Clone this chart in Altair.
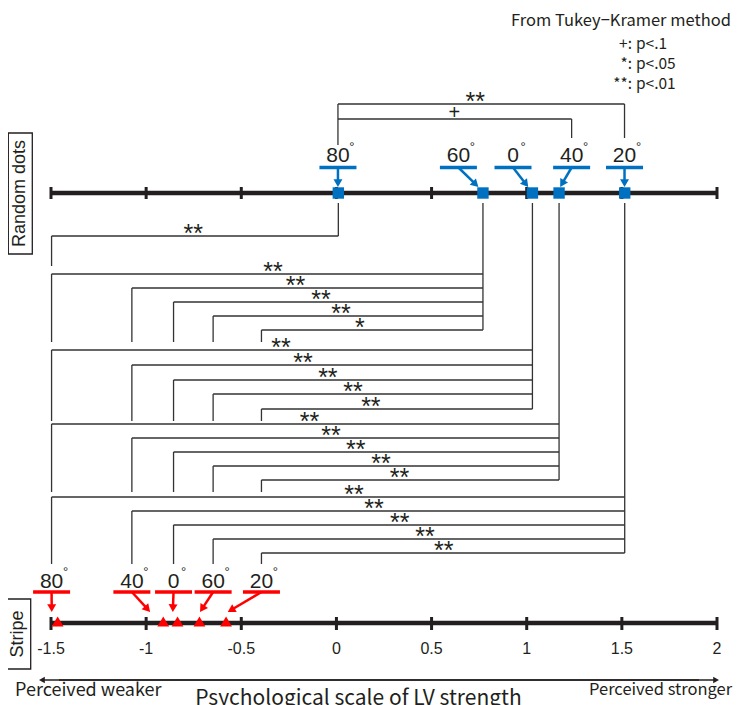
import math
import altair as alt
import pandas as pd

# ---------------- values ----------------
random_angles = ["80", "60", "0", "40", "20"]            # random-dots conditions, left to right
random_scale = [0.01, 0.77, 1.03, 1.17, 1.515]            # psychological scale values
stripe_angles = ["80", "40", "0", "60", "20"]             # stripe conditions, left to right
stripe_scale = [-1.465, -0.91, -0.835, -0.72, -0.58]
axis_ticks = [-1.5, -1.0, -0.5, 0.0, 0.5, 1.0, 1.5, 2.0]
tick_labels = ["-1.5", "-1", "-0.5", "0", "0.5", "1", "1.5", "2"]

# Tukey-Kramer: each random-dots condition vs the stripe conditions (stripe_angles order)
sig_vs_stripe_80 = ["**", "", "", "", ""]
sig_vs_stripe_60 = ["**", "**", "**", "**", "*"]
sig_vs_stripe_0 = ["**", "**", "**", "**", "**"]
sig_vs_stripe_40 = ["**", "**", "**", "**", "**"]
sig_vs_stripe_20 = ["**", "**", "**", "**", "**"]
# within random dots
pair_from = ["80", "80"]
pair_to = ["20", "40"]
pair_sig = ["**", "+"]

legend_keys = ["+:", "*:", "**:"]
legend_levels = ["p<.1", "p<.05", "p<.01"]
legend_title = "From Tukey\u2212Kramer method"
axis_title = "Psychological scale of LV strength"
left_note = "Perceived weaker"
right_note = "Perceived stronger"

# ---------------- layout ----------------
W, H = 666, 697
PAD = {"left": 43, "right": 19, "top": 0, "bottom": 0}
XMIN, XMAX = -1.5, 2.0
PXU = W / (XMAX - XMIN)            # pixels per scale unit
INK = "#231f20"
LINE = "#333333"
BLUE = "#0070C0"
RED = "#FF0000"
F_LAT = "Liberation Sans"
F_JP = "Noto Sans CJK JP"

random_label_x = [0.008, 0.641, 0.928, 1.236, 1.514]
random_tip_x = [0.008, 0.746, 1.008, 1.176, 1.514]
stripe_label_x = [-1.497, -1.075, -0.856, -0.648, -0.394]
stripe_tip_x = [-1.496, -0.979, -0.860, -0.717, -0.571]

Y_LEG_TITLE, Y_LEG = 21, [44, 64, 84]
Y_TOPBR = [104, 119]
Y_TOPBR_STAR = [97, 112.5]
X_TOPBR_STAR = [0.73, 0.62]
Y_TOPBR_LEFT_END, Y_TOPBR_RIGHT_END = 145, 138
Y_RLAB, Y_RDEG, Y_RBAR, Y_RTIP, Y_RAXIS, Y_BR0 = 156, 147, 167.5, 187, 193, 203
group_lines = [[236], [274, 288, 302, 316, 330], [350, 365, 380, 394, 409],
               [424, 438, 452, 466, 480], [497, 511, 525, 539, 553]]
group_bottom = [266, 342, 421, 492, 564]
group_star_x = [[-0.753], [-0.333, -0.215, -0.081, 0.024, 0.123],
                [-0.291, -0.176, -0.045, 0.087, 0.181],
                [-0.142, -0.029, 0.102, 0.234, 0.331],
                [0.092, 0.197, 0.333, 0.465, 0.564]]
Y_SLAB, Y_SDEG, Y_SBAR, Y_STIP, Y_SAXIS, Y_SMARK = 582, 572, 592, 612, 623, 621.5
Y_TICKLAB, Y_ARROW, Y_NOTE, Y_TITLE = 649, 680, 691, 699


def du(p):
    return p / PXU


def img_x(p):
    return XMIN + (p - 8 - PAD["left"]) / PXU


rules, heads = [], []


def seg(x, y, x2, y2, c=LINE, w=1.3):
    rules.append(dict(x=x, y=y, x2=x2, y2=y2, c=c, w=w))


def arrow(x0, y0, x1, y1, c, w, size):
    dxp, dyp = (x1 - x0) * PXU, y1 - y0
    L = math.hypot(dxp, dyp)
    ux, uy = dxp / L, dyp / L
    r = math.sqrt(size) / 2
    h = r * math.sqrt(3) / 2
    heads.append(dict(x=x1 - du(h * ux), y=y1 - h * uy,
                      a=math.degrees(math.atan2(-ux, uy)) % 360, s=size, c=c))
    seg(x0, y0, x1 - du(1.5 * h * ux), y1 - 1.5 * h * uy, c, w)


# axes
for yax, t0, t1 in [(Y_RAXIS, 187, 199), (Y_SAXIS, 617, 630)]:
    seg(XMIN, yax, XMAX, yax, INK, 4.5)
    for t in axis_ticks:
        seg(t, t0, t, t1, INK, 3)

# label bars and arrows
half = du(18.5)
for lx, tx in zip(random_label_x, random_tip_x):
    seg(lx - half, Y_RBAR, lx + half, Y_RBAR, BLUE, 3.5)
    arrow(lx, Y_RBAR, tx, Y_RTIP, BLUE, 2.5, 80)
for lx, tx in zip(stripe_label_x, stripe_tip_x):
    seg(lx - half, Y_SBAR, lx + half, Y_SBAR, RED, 3.5)
    arrow(lx, Y_SBAR, tx, Y_STIP, RED, 2.5, 80)

# bottom double arrow
ax0, ax1 = img_x(39), img_x(719)
arrow(ax1 - du(20), Y_ARROW, ax0, Y_ARROW, INK, 1.3, 45)
arrow(ax0 + du(20), Y_ARROW, ax1, Y_ARROW, INK, 1.3, 45)

# brackets within random dots
stars, plus = [], []
rpos = dict(zip(random_angles, random_label_x))
for a, b, s, yb, ys, xs in zip(pair_from, pair_to, pair_sig, Y_TOPBR, Y_TOPBR_STAR, X_TOPBR_STAR):
    seg(rpos[a], yb, rpos[b], yb)
    seg(rpos[b], yb, rpos[b], Y_TOPBR_RIGHT_END)
    (plus if s == "+" else stars).append(dict(x=xs, y=ys, t=s))
seg(rpos[pair_from[0]], min(Y_TOPBR), rpos[pair_from[0]], Y_TOPBR_LEFT_END)

# brackets random dots vs stripe
sig_groups = [sig_vs_stripe_80, sig_vs_stripe_60, sig_vs_stripe_0, sig_vs_stripe_40, sig_vs_stripe_20]
for gi, sigs in enumerate(sig_groups):
    xr = random_scale[gi]
    ys_list = group_lines[gi]
    k = 0
    for j, s in enumerate(sigs):
        if not s:
            continue
        yl = ys_list[k]
        xl = stripe_label_x[j]
        seg(xl, yl, xr, yl)
        seg(xl, yl, xl, group_bottom[gi])
        stars.append(dict(x=group_star_x[gi][k], y=yl - 7, t=s))
        k += 1
    seg(xr, Y_BR0, xr, ys_list[-1])

# ---------------- chart ----------------
x_sc = alt.Scale(domain=[XMIN, XMAX], nice=False, zero=False)
y_sc = alt.Scale(domain=[8, 8 + H], nice=False, zero=False, reverse=True)
X = alt.X("x:Q", scale=x_sc, axis=None)
Y = alt.Y("y:Q", scale=y_sc, axis=None)

rule_layer = alt.Chart(pd.DataFrame(rules)).mark_rule(strokeCap="butt").encode(
    x=X, y=Y, x2="x2:Q", y2="y2:Q",
    color=alt.Color("c:N", scale=None),
    strokeWidth=alt.StrokeWidth("w:Q", scale=None),
)
head_layer = alt.Chart(pd.DataFrame(heads)).mark_point(
    shape="triangle-down", filled=True, opacity=1, strokeWidth=0
).encode(
    x=X, y=Y, angle=alt.Angle("a:Q", scale=None),
    size=alt.Size("s:Q", scale=None), color=alt.Color("c:N", scale=None),
)

rd_df = pd.DataFrame({"x": random_scale, "y": [Y_RAXIS] * 5, "cond": random_angles})
st_df = pd.DataFrame({"x": stripe_scale, "y": [Y_SMARK] * 5, "cond": stripe_angles})
rd_layer = alt.Chart(rd_df).mark_point(shape="square", filled=True, size=130, color=BLUE,
                                       opacity=1).encode(x=X, y=Y)
st_layer = alt.Chart(st_df).mark_point(shape="triangle-up", filled=True, size=140, color=RED,
                                       opacity=1).encode(x=X, y=Y)


def tlayer(rows, **kw):
    return alt.Chart(pd.DataFrame(rows)).mark_text(**kw).encode(x=X, y=Y, text="t:N")


num_rows = ([dict(x=x, y=Y_RLAB, t=a) for x, a in zip(random_label_x, random_angles)] +
            [dict(x=x, y=Y_SLAB, t=a) for x, a in zip(stripe_label_x, stripe_angles)])
deg_rows = ([dict(x=x + du(14 if len(a) > 1 else 10), y=Y_RDEG, t="°")
             for x, a in zip(random_label_x, random_angles)] +
            [dict(x=x + du(14 if len(a) > 1 else 10), y=Y_SDEG, t="°")
             for x, a in zip(stripe_label_x, stripe_angles)])
tick_rows = [dict(x=t, y=Y_TICKLAB, t=l) for t, l in zip(axis_ticks, tick_labels)]

layers = [
    rule_layer, head_layer, rd_layer, st_layer,
    tlayer(num_rows, font=F_LAT, fontSize=21, color=INK, align="center", baseline="middle"),
    tlayer(deg_rows, font=F_LAT, fontSize=13, color=INK, align="center", baseline="middle"),
    tlayer(tick_rows, font=F_LAT, fontSize=16, color=INK, align="center", baseline="middle"),
    tlayer(stars, font=F_LAT, fontSize=25, color=INK, align="center", baseline="middle", dy=4.5),
    tlayer(plus, font=F_LAT, fontSize=20, color=INK, align="center", baseline="middle"),
    tlayer([dict(x=img_x(621), y=Y_LEG_TITLE, t=legend_title)], font=F_JP, fontSize=16.5,
           color=INK, align="center", baseline="middle"),
    tlayer([dict(x=img_x(632), y=y, t=k) for y, k in zip(Y_LEG, legend_keys)], font=F_JP,
           fontSize=15.5, color=INK, align="right", baseline="middle"),
    tlayer([dict(x=img_x(636), y=y, t=k) for y, k in zip(Y_LEG, legend_levels)], font=F_JP,
           fontSize=15.5, color=INK, align="left", baseline="middle"),
    tlayer([dict(x=img_x(15), y=Y_NOTE, t=left_note)], font=F_JP, fontSize=18, color=INK,
           align="left", baseline="middle"),
    tlayer([dict(x=img_x(589), y=Y_NOTE - 1, t=right_note)], font=F_JP, fontSize=16.5, color=INK,
           align="left", baseline="middle"),
    tlayer([dict(x=img_x(358.5), y=Y_TITLE, t=axis_title)], font=F_JP, fontSize=21, color=INK,
           align="center", baseline="middle"),
    tlayer([dict(x=img_x(20.3), y=193.5, t="Random dots"), dict(x=img_x(18.3), y=634, t="Stripe")],
           font=F_LAT, fontSize=18, color=INK, align="center", baseline="middle", angle=270),
]

box_df = pd.DataFrame([
    dict(x=img_x(8.3), x2=img_x(32.3), y=133, y2=254),
    dict(x=img_x(6), x2=img_x(30.7), y=599, y2=669),
])
box_layer = alt.Chart(box_df).mark_rect(fillOpacity=0, stroke=INK, strokeWidth=1.3).encode(
    x=X, x2="x2:Q", y=Y, y2="y2:Q")
layers.append(box_layer)

chart = alt.layer(*layers).properties(
    width=W, height=H, padding=PAD,
    autosize=alt.AutoSizeParams(type="none"),
    background="white",
).configure_view(strokeWidth=0)

chart.save("out.html", embed_options={"renderer": "svg", "actions": False})
